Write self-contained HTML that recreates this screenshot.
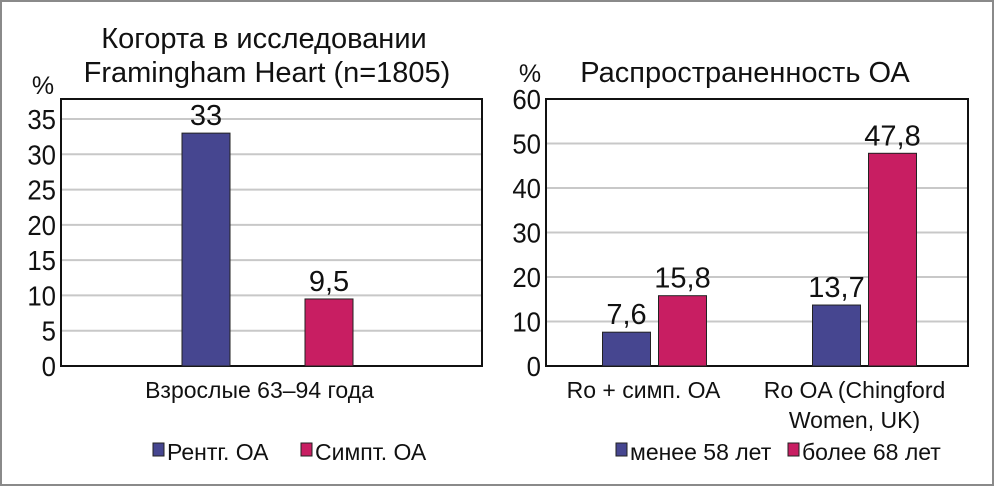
<!DOCTYPE html>
<html><head><meta charset="utf-8"><style>
body{margin:0;background:#fff}
svg{display:block;font-family:"Liberation Sans",sans-serif}
</style></head><body>
<svg width="995" height="487">
<rect x="1" y="1" width="992" height="484" fill="#fff" stroke="#8a8a8a" stroke-width="2"/>
<g id="left"></g>
<g id="right"></g>
</svg>
<script>
const leftTicks=[0,5,10,15,20,25,30,35];
const leftCats=["Взрослые 63–94 года"];
const leftSeriesA=[33];
const leftSeriesB=[9.5];
const leftLabelsA=["33"];
const leftLabelsB=["9,5"];
const rightTicks=[0,10,20,30,40,50,60];
const rightCats=[["Ro + симп. ОА"],["Ro OA (Chingford","Women, UK)"]];
const rightSeriesA=[7.6,13.7];
const rightSeriesB=[15.8,47.8];
const rightLabelsA=["7,6","13,7"];
const rightLabelsB=["15,8","47,8"];
const BLUE="#464690",RED="#c81e62";
const NS="http://www.w3.org/2000/svg";
function mk(p,t,a,txt){const e=document.createElementNS(NS,t);for(const k in a)e.setAttribute(k,a[k]);if(txt!=null)e.textContent=txt;p.appendChild(e);return e;}
function draw(g,o){
  const y=v=>o.y0-(v/o.max)*(o.y0-o.top);
  mk(g,'rect',{x:o.x0,y:o.pTop,width:o.x1-o.x0,height:o.y0-o.pTop,fill:'#fff'});
  o.ticks.forEach(t=>{
    if(t>0){const l=mk(g,'line',{x1:o.x0,x2:o.x1,y1:y(t),y2:y(t),stroke:'#c8c8c8','stroke-width':2});
    }
    const tx=mk(g,'text',{x:o.x0-5,y:y(t)+10,'font-size':28,'text-anchor':'end',fill:'#111',transform:`translate(${o.x0-5},0) scale(0.92,1) translate(${-(o.x0-5)},0)`},String(t));
    
  });
  const fr=mk(g,'rect',{x:o.x0,y:o.pTop,width:o.x1-o.x0,height:o.y0-o.pTop,fill:'none',stroke:'#111','stroke-width':2});
  
  const n=o.cats.length, cw=(o.x1-o.x0)/n;
  o.cats.forEach((c,i)=>{
    const cx=o.x0+cw*(i+0.5);
    const bc=cx+o.barDx[i];
    [[o.A,o.LA,BLUE,-1],[o.B,o.LB,RED,1]].forEach(([arr,lab,col,s])=>{
      const bx=bc+(s<0?-o.gap/2-o.bw:o.gap/2);
      const r=mk(g,'rect',{x:bx,y:y(arr[i]),width:o.bw,height:o.y0-y(arr[i]),fill:col,stroke:'#222','stroke-width':1});
      
      const t=mk(g,'text',{x:bx+o.bw/2,y:y(arr[i])-8,'font-size':29,'text-anchor':'middle',fill:'#111'},lab[i]);
      
    });
    (Array.isArray(c)?c:[c]).forEach((ln,j)=>{
      const t=mk(g,'text',{x:cx+(o.catDx||0),y:398+j*30,'font-size':23,'text-anchor':'middle',fill:'#111'},ln);
      
    });
  });
}
const L=document.getElementById('left'),R=document.getElementById('right');
draw(L,{x0:61,x1:482,pTop:99,y0:366,top:119,max:35,ticks:leftTicks,cats:leftCats,A:leftSeriesA,B:leftSeriesB,LA:leftLabelsA,LB:leftLabelsB,bw:48,gap:75,catDx:-12,barDx:[-4]});
draw(R,{x0:546,x1:968,pTop:99,y0:366,top:99,max:60,ticks:rightTicks,cats:rightCats,A:rightSeriesA,B:rightSeriesB,LA:rightLabelsA,LB:rightLabelsB,bw:48,gap:8,catDx:-8,barDx:[3,2]});
function txt(p,x,y,s,t,name,anchor){const e=mk(p,'text',{x:x,y:y,'font-size':s,'text-anchor':anchor||'middle',fill:'#111'},t);return e;}
txt(L,264,48,29,"Когорта в исследовании","chart-title");
txt(L,267,82,29,"Framingham Heart (n=1805)","chart-title");
txt(L,43,94,25,"%","y-axis-unit");
txt(R,745,82,29,"Распространенность ОА","chart-title");
txt(R,530,82,25,"%","y-axis-unit");
function leg(p,x,col,t){const r=mk(p,'rect',{x:x,y:443,width:11,height:13,fill:col,stroke:'#222','stroke-width':1});txt(p,x+14,460,23,t,'legend-entry','start');}
leg(L,153,BLUE,"Рентг. ОА");leg(L,301,RED,"Симпт. ОА");
leg(R,616,BLUE,"менее 58 лет");leg(R,788,RED,"более 68 лет");
</script>
</body></html>
